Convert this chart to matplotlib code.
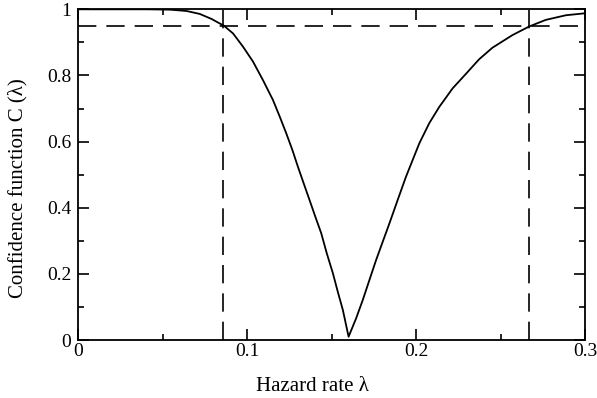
import matplotlib
matplotlib.use('Agg')
import matplotlib.pyplot as plt

plt.rcParams['font.family'] = ['Liberation Serif', 'DejaVu Serif']

# confidence function
lam = [0.0, 0.0404, 0.0542, 0.0640, 0.0719, 0.0788, 0.0863, 0.0916, 0.0975,
       0.1034, 0.1093, 0.1152, 0.1192, 0.1231, 0.1267, 0.1300, 0.1334,
       0.1369, 0.1403, 0.1438, 0.1471, 0.1507, 0.1536, 0.1566, 0.1600,
       0.1645, 0.1684, 0.1723, 0.1763, 0.1802, 0.1842, 0.1891, 0.1940,
       0.2019, 0.2078, 0.2137, 0.2216, 0.2295, 0.2373, 0.2452, 0.2570,
       0.2669, 0.2767, 0.2886, 0.3000]
conf = [1.0, 1.0, 0.999, 0.995, 0.986, 0.971, 0.950, 0.927, 0.887,
        0.842, 0.786, 0.726, 0.676, 0.625, 0.575, 0.524, 0.474,
        0.423, 0.373, 0.323, 0.262, 0.202, 0.146, 0.091, 0.010,
        0.066, 0.121, 0.181, 0.242, 0.297, 0.353, 0.424, 0.494,
        0.595, 0.656, 0.705, 0.761, 0.805, 0.849, 0.884, 0.922,
        0.948, 0.968, 0.982, 0.988]

level = 0.95
lam_lo = 0.0857
lam_hi = 0.2669

xticks = [0, 0.1, 0.2, 0.3]
xtick_labels = ['0', '0.1', '0.2', '0.3']
yticks = [0, 0.2, 0.4, 0.6, 0.8, 1.0]
ytick_labels = ['0', '0.2', '0.4', '0.6', '0.8', '1']

fig = plt.figure(figsize=(5.97, 3.98), dpi=100)
ax = fig.add_axes([0.1312, 0.1457, 0.8488, 0.8309])

dash = (0, (11, 6))
ax.plot(lam, conf, 'k-', lw=1.3)
ax.axhline(level, color='k', lw=1.2, ls=dash)
ax.axvline(lam_lo, color='k', lw=1.2, ls=dash)
ax.axvline(lam_hi, color='k', lw=1.2, ls=dash)

ax.set_xlim(0, 0.3)
ax.set_ylim(0, 1)
ax.set_xticks(xticks)
ax.set_xticklabels(xtick_labels)
ax.set_xticks([0.05, 0.15, 0.25], minor=True)
ax.set_yticks(yticks)
ax.set_yticklabels(ytick_labels)
ax.set_yticks([0.1, 0.3, 0.5, 0.7, 0.9], minor=True)

ax.tick_params(which='both', direction='in', top=True, right=True, width=1.2)
ax.tick_params(which='major', length=8)
ax.tick_params(which='minor', length=4.5)
ax.tick_params(axis='x', pad=2, labelsize=14)
ax.tick_params(axis='y', pad=5, labelsize=14)
for s in ax.spines.values():
    s.set_linewidth(1.3)

ax.set_xlabel('Hazard rate λ', fontsize=15)
ax.set_ylabel('Confidence function C (λ)', fontsize=15)
ax.xaxis.set_label_coords(0.462, -0.112)
ax.yaxis.set_label_coords(-0.101, 0.46)

fig.savefig('out.png', dpi=100)
